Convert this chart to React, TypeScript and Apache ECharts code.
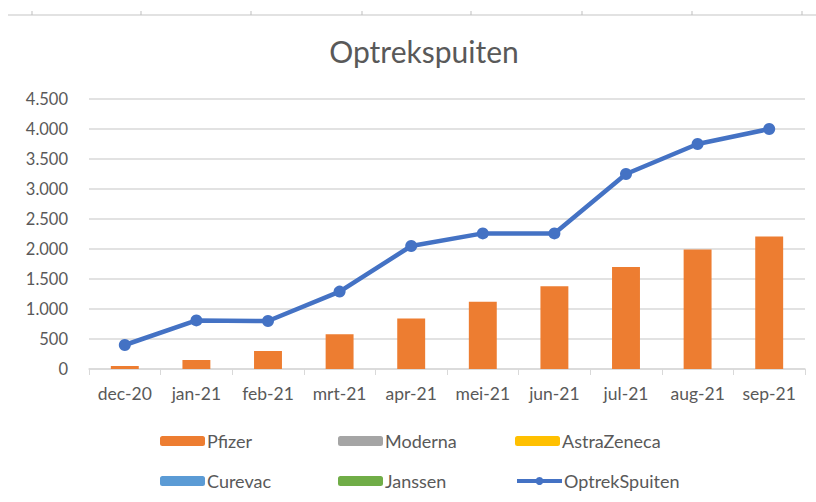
import React, { useEffect, useRef } from "react";
import * as echarts from "echarts";

const categories = ["dec-20", "jan-21", "feb-21", "mrt-21", "apr-21", "mei-21", "jun-21", "jul-21", "aug-21", "sep-21"];
const pfizer = [50, 150, 300, 580, 840, 1120, 1380, 1700, 1990, 2210];
const moderna: number[] = [];
const astraZeneca: number[] = [];
const curevac: number[] = [];
const janssen: number[] = [];
const optrekSpuiten = [400, 810, 800, 1290, 2050, 2260, 2260, 3250, 3750, 4000];
const yTicks = [0, 500, 1000, 1500, 2000, 2500, 3000, 3500, 4000, 4500];
const topTickXs = [32, 141, 251, 362, 471, 582, 692, 802];

const FONT = "Lato, 'Noto Sans', sans-serif";
const TXT = "#595959";

export default function App() {
  const ref = useRef<HTMLDivElement>(null);
  useEffect(() => {
    if (!ref.current) return;
    const chart = echarts.init(ref.current, null, { renderer: "svg" });
    const fmt = (v: number) => v.toLocaleString("de-DE");
    const legendPos = [
      { name: "Pfizer", left: 160, top: 432 },
      { name: "Moderna", left: 338, top: 432 },
      { name: "AstraZeneca", left: 515, top: 432 },
      { name: "Curevac", left: 160, top: 472 },
      { name: "Janssen", left: 338, top: 472 },
      { name: "OptrekSpuiten", left: 515, top: 472 },
    ];
    chart.setOption({
      animation: false,
      backgroundColor: "#ffffff",
      textStyle: { fontFamily: FONT },
      title: {
        text: "Optrekspuiten",
        left: 419,
        top: 31,
        textAlign: "center",
        textStyle: { fontFamily: FONT, fontSize: 30, fontWeight: "normal", color: TXT },
      },
      graphic: [
        { type: "line", shape: { x1: 8, y1: 15, x2: 816, y2: 15 }, style: { stroke: "#d9d9d9", lineWidth: 1.5 } },
        ...topTickXs.map((x) => ({
          type: "line",
          shape: { x1: x, y1: 11, x2: x, y2: 15 },
          style: { stroke: "#bfbfbf", lineWidth: 1 },
        })),
      ],
      legend: legendPos.map((l) => ({
        data: [l.name],
        left: l.left,
        top: l.top,
        padding: 0,
        itemWidth: 45,
        itemHeight: 10,
        lineStyle: { width: 4 },
        textStyle: { fontFamily: FONT, fontSize: 18, color: TXT, padding: [0, 0, 0, -3] },
      })),
      grid: { left: 89, right: 11, top: 99, bottom: 133 },
      xAxis: {
        type: "category",
        data: categories,
        axisLine: { lineStyle: { color: "#d9d9d9", width: 1.5 } },
        axisTick: { show: true, length: 6, lineStyle: { color: "#d9d9d9" } },
        axisLabel: { fontFamily: FONT, fontSize: 17.5, color: TXT, margin: 15 },
      },
      yAxis: {
        type: "value",
        min: yTicks[0],
        max: yTicks[yTicks.length - 1],
        interval: 500,
        axisLine: { show: false },
        axisTick: { show: false },
        splitLine: { lineStyle: { color: "#d9d9d9", width: 1.5 } },
        axisLabel: { fontFamily: FONT, fontSize: 16.5, color: TXT, margin: 21, formatter: fmt },
      },
      series: [
        { name: "Pfizer", type: "bar", stack: "v", data: pfizer, barWidth: "39%", itemStyle: { color: "#ED7D31" } },
        { name: "Moderna", type: "bar", stack: "v", data: moderna, itemStyle: { color: "#A5A5A5" } },
        { name: "AstraZeneca", type: "bar", stack: "v", data: astraZeneca, itemStyle: { color: "#FFC000" } },
        { name: "Curevac", type: "bar", stack: "v", data: curevac, itemStyle: { color: "#5B9BD5" } },
        { name: "Janssen", type: "bar", stack: "v", data: janssen, itemStyle: { color: "#70AD47" } },
        {
          name: "OptrekSpuiten",
          type: "line",
          data: optrekSpuiten,
          symbol: "circle",
          symbolSize: 12,
          lineStyle: { color: "#4472C4", width: 4.5 },
          itemStyle: { color: "#4472C4" },
        },
      ],
    });
    return () => chart.dispose();
  }, []);
  return <div ref={ref} style={{ width: 816, height: 502, position: "absolute", left: 0, top: 0 }} />;
}
